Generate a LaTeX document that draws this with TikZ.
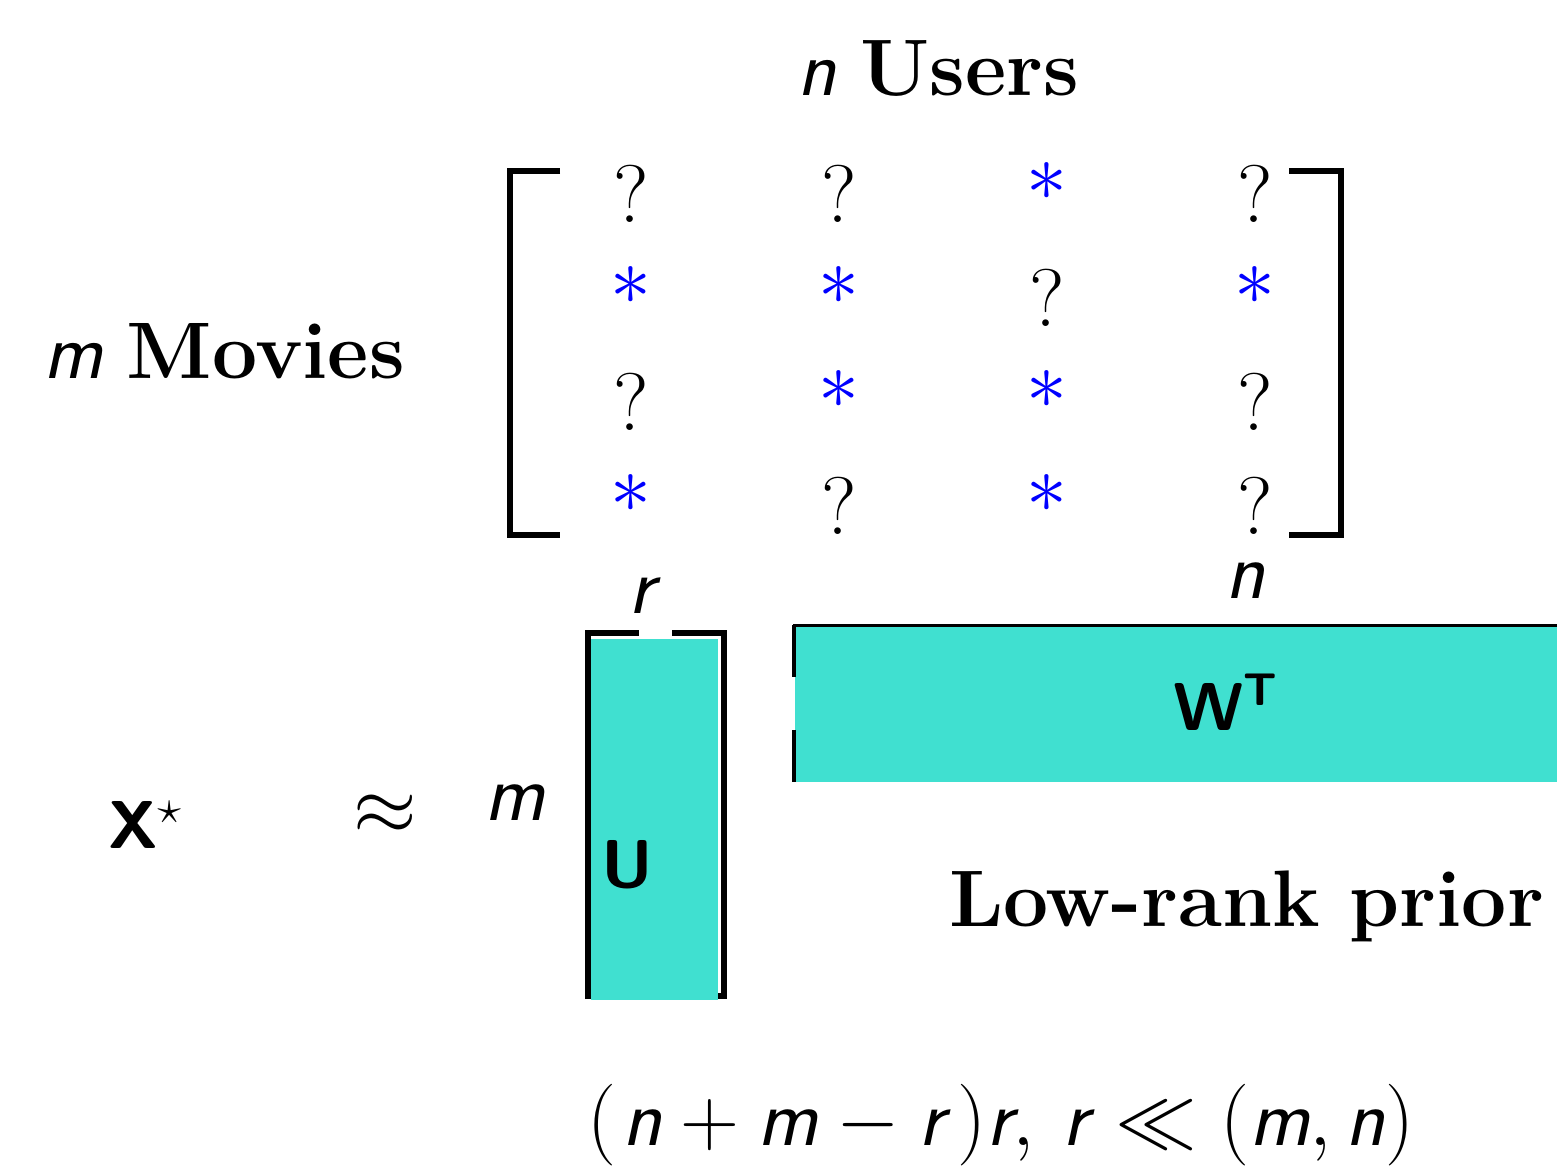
\RequirePackage{fix-cm}
\documentclass[tikz,border=0pt]{standalone}
\definecolor{turq}{HTML}{40E0D0}
\newcommand{\sv}[1]{\mbox{\sffamily\itshape #1}}
\begin{document}
\begin{tikzpicture}[x=1bp,y=-1bp,
  lbl/.style={inner sep=0pt,outer sep=0pt},
  big/.style={font=\fontsize{82}{98}\selectfont},
  hd/.style={font=\fontsize{80.5}{96}\selectfont},
  mid/.style={font=\fontsize{68}{82}\selectfont\sffamily\bfseries},
  qm/.style={lbl,big,anchor=base},
  st/.style={lbl,big,anchor=base,text=blue,yshift=21.5bp},
  brk/.style={line width=6bp},
  blk/.style={fill=turq,draw=none}]
\useasboundingbox (0,0) rectangle (1557,1170);
% titles
\node[lbl,hd,anchor=base west] (users) at (797,95) {\sv{n} \textbf{Users}};
\node[lbl,hd,anchor=base west] (movies) at (43,378) {\sv{m} \textbf{Movies}};
% matrix brackets
\draw[brk] (560,171) -- (510,171) -- (510,535) -- (560,535);
\draw[brk] (1289,171) -- (1340.5,171) -- (1340.5,535) -- (1289,535);
% row 1
\node[qm] (e11) at (631,222) {$?$};
\node[qm] (e12) at (839,222) {$?$};
\node[st] (e13) at (1047,222) {$\ast$};
\node[qm] (e14) at (1255,222) {$?$};
% row 2
\node[st] (e21) at (631,326) {$\ast$};
\node[st] (e22) at (839,326) {$\ast$};
\node[qm] (e23) at (1047,326) {$?$};
\node[st] (e24) at (1255,326) {$\ast$};
% row 3
\node[qm] (e31) at (631,430) {$?$};
\node[st] (e32) at (839,430) {$\ast$};
\node[st] (e33) at (1047,430) {$\ast$};
\node[qm] (e34) at (1255,430) {$?$};
% row 4
\node[st] (e41) at (631,534) {$\ast$};
\node[qm] (e42) at (839,534) {$?$};
\node[st] (e43) at (1047,534) {$\ast$};
\node[qm] (e44) at (1255,534) {$?$};
% U block
\draw[brk] (588,999) -- (588,632.5) -- (639,632.5);
\draw[brk] (672,632.5) -- (723.5,632.5) -- (723.5,996) -- (700,996);
\fill[blk] (591,639) rectangle (718,1000);
\node[lbl,mid,anchor=base west] (U) at (601,887) {U};
\node[lbl,big,anchor=base] (r) at (642,613) {\sv{r}};
\node[lbl,big,anchor=base west] (m) at (484,820) {\sv{m}};
% W block
\fill[blk] (795,625) rectangle (1557,782);
\draw[line width=2.5bp] (793,625.5) -- (1557,625.5);
\draw[line width=3.5bp] (794,625) -- (794,677);
\draw[line width=3.5bp] (794,730) -- (794,782);
\node[lbl,mid,anchor=base west] (W) at (1173,730) {W\raisebox{25bp}{\fontsize{46}{50}\selectfont T}};
\node[lbl,big,anchor=base] (n) at (1245,598) {\sv{n}};
% X approx
\node[lbl,mid,anchor=base west] (X) at (108,848) {X$^\star$};
\node[lbl,big,anchor=base] (approx) at (385,834) {$\approx$};
% captions
\node[lbl,hd,anchor=base west] (prior) at (949,926) {\textbf{Low-rank prior}};
\node[lbl,big,anchor=base west] (count) at (587,1145) {$(\mskip1.5mu\sv{n}+\sv{m}-\sv{r}\mskip3mu)\sv{r},\mskip3mu\sv{r}\mskip1mu\ll(\sv{m},\sv{n})$};
\end{tikzpicture}
\end{document}
